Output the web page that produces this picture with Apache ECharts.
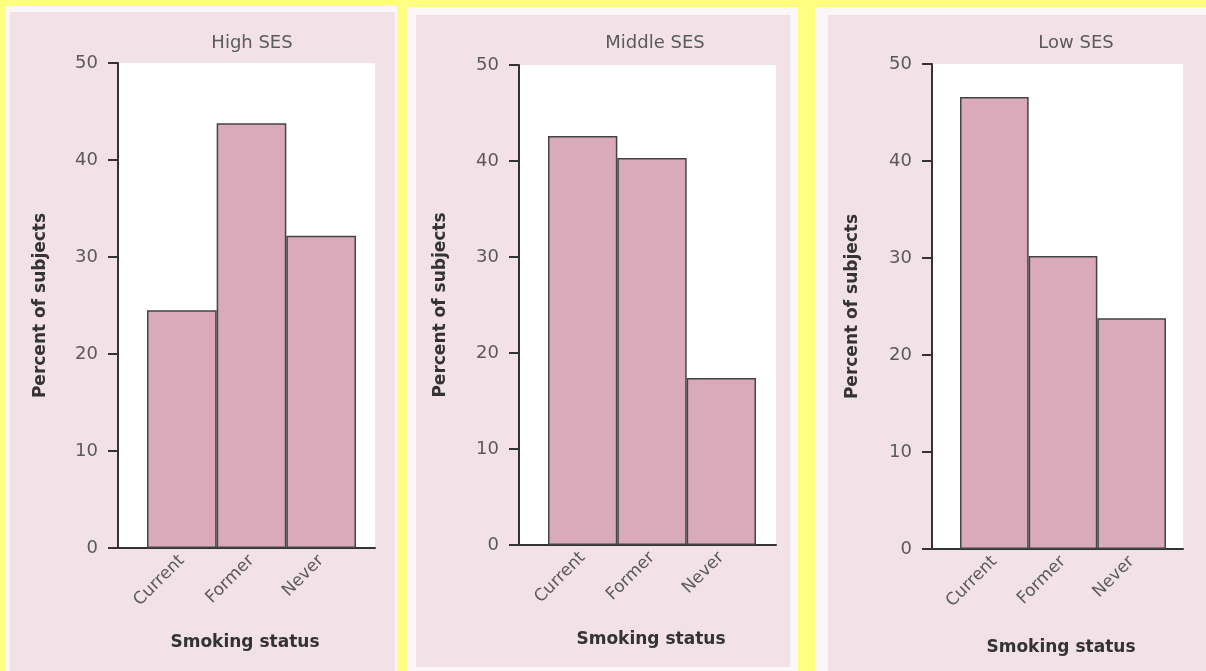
<!DOCTYPE html>
<html>
<head>
<meta charset="utf-8">
<script src="https://cdn.jsdelivr.net/npm/echarts@6/dist/echarts.min.js"></script>
<style>
html,body{margin:0;padding:0;background:#FEFE80;}
#chart{width:1206px;height:671px;}
</style>
</head>
<body>
<div id="chart"></div>
<script>
// ---- data ----
const categories = ['Current', 'Former', 'Never'];
const panelTitles = ['High SES', 'Middle SES', 'Low SES'];
const highSES = [24.5, 43.8, 32.2];
const middleSES = [42.6, 40.3, 17.4];
const lowSES = [46.6, 30.2, 23.8];
const yAxisName = 'Percent of subjects';
const xAxisName = 'Smoking status';
const yMin = 0, yMax = 50, yStep = 10;

// ---- layout ----
const seriesData = [highSES, middleSES, lowSES];
const panels = [
  {frame:{left:118, top:63, width:257, height:485}, bars:{left:147, width:209}, titleX:247, xNameX:240, xNameY:629, yGap:69,
   bg:{x:10, y:12, w:385, h:659}, white:{x:5, y:6, w:392, h:665}},
  {frame:{left:519, top:65, width:257, height:480}, bars:{left:548, width:208}, titleX:650, xNameX:646, xNameY:626, yGap:70,
   bg:{x:416, y:15, w:374, h:652}, white:{x:407, y:7, w:391, h:664}},
  {frame:{left:932, top:64, width:251, height:485}, bars:{left:960, width:206}, titleX:1071, xNameX:1056, xNameY:634, yGap:71,
   bg:{x:828, y:15, w:378, h:656}, white:{x:815, y:7, w:391, h:664}}
];

const labelColor = '#5a5a5a';
const axisColor = '#333';
const grids = [], xAxes = [], yAxes = [], series = [], titles = [], graphics = [];

panels.forEach((p, i) => {
  graphics.push({type:'rect', z:-10, shape:{x:p.white.x, y:p.white.y, width:p.white.w, height:p.white.h}, style:{fill:'#FBF7F8'}});
  graphics.push({type:'rect', z:-9, shape:{x:p.bg.x, y:p.bg.y, width:p.bg.w, height:p.bg.h}, style:{fill:'#F2E1E7'}});

  // frame grid (white plot area, y axis, baseline)
  const fi = grids.length;
  grids.push({left:p.frame.left, top:p.frame.top, width:p.frame.width, height:p.frame.height,
    show:true, backgroundColor:'#ffffff', borderWidth:0, containLabel:false});
  xAxes.push({gridIndex:fi, type:'category', data:categories, axisLine:{show:true, lineStyle:{color:axisColor, width:2}},
    axisTick:{show:false}, axisLabel:{show:false}, splitLine:{show:false}});
  yAxes.push({gridIndex:fi, type:'value', min:yMin, max:yMax, interval:yStep,
    name:yAxisName, nameLocation:'middle', nameGap:p.yGap,
    nameTextStyle:{fontFamily:'DejaVu Sans', fontWeight:'bold', fontSize:17, color:'#333'},
    axisLine:{show:true, lineStyle:{color:axisColor, width:2}},
    axisTick:{show:true, length:10, lineStyle:{color:axisColor, width:2}},
    axisLabel:{margin:20, fontFamily:'DejaVu Sans', fontSize:18, color:labelColor},
    splitLine:{show:false}});

  // bar grid
  const bi = grids.length;
  grids.push({left:p.bars.left, top:p.frame.top, width:p.bars.width, height:p.frame.height, show:false});
  xAxes.push({gridIndex:bi, type:'category', data:categories, axisLine:{show:false}, axisTick:{show:false},
    axisLabel:{rotate:45, margin:10, fontFamily:'DejaVu Sans', fontSize:17, color:labelColor}});
  yAxes.push({gridIndex:bi, type:'value', min:yMin, max:yMax, interval:yStep, show:false});
  series.push({type:'bar', xAxisIndex:bi, yAxisIndex:bi, data:seriesData[i], barWidth:'100%', barCategoryGap:'0%',
    itemStyle:{color:'#D8AABA', borderColor:'#444', borderWidth:1.5}, silent:true});

  titles.push({text:panelTitles[i], left:p.titleX, top:29, textAlign:'center',
    textStyle:{fontFamily:'DejaVu Sans', fontWeight:'normal', fontSize:18, color:labelColor}});
  titles.push({text:xAxisName, left:p.xNameX, top:p.xNameY, textAlign:'center',
    textStyle:{fontFamily:'DejaVu Sans', fontWeight:'bold', fontSize:17, color:'#333'}});
});

const chart = echarts.init(document.getElementById('chart'), null, {renderer:'canvas'});
chart.setOption({
  backgroundColor:'#FEFE80',
  animation:false,
  title:titles,
  grid:grids,
  xAxis:xAxes,
  yAxis:yAxes,
  series:series,
  graphic:graphics
});
</script>
</body>
</html>
